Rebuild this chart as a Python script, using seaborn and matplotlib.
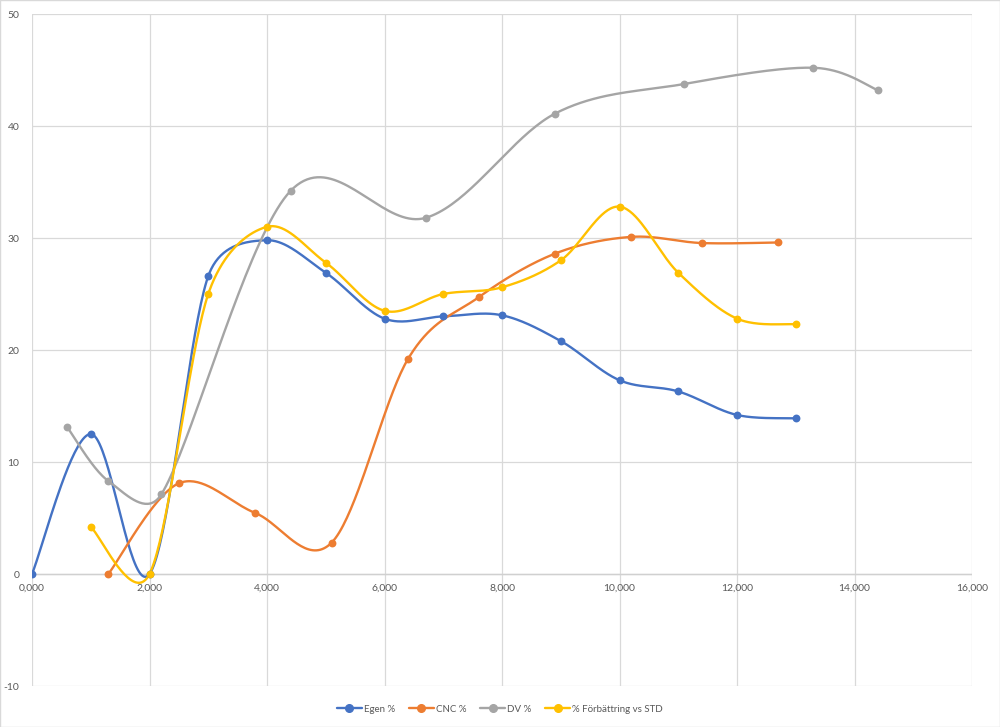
import numpy as np
import pandas as pd
import seaborn as sns
import matplotlib.pyplot as plt
from matplotlib.lines import Line2D
from matplotlib.patches import Rectangle

# ---- data ----
egen_x = [0.0, 1.0, 2.0, 3.0, 4.0, 5.0, 6.0, 7.0, 8.0, 9.0, 10.0, 11.0, 12.0, 13.0]
egen_y = [0.0, 12.5, 0.0, 26.6, 29.8, 26.9, 22.8, 23.0, 23.1, 20.8, 17.3, 16.3, 14.2, 13.9]

cnc_x = [1.3, 2.5, 3.8, 5.1, 6.4, 7.6, 8.9, 10.2, 11.4, 12.7]
cnc_y = [0.0, 8.1, 5.45, 2.8, 19.2, 24.7, 28.6, 30.1, 29.55, 29.6]

dv_x = [0.6, 1.3, 2.2, 4.4, 6.7, 8.9, 11.1, 13.3, 14.4]
dv_y = [13.1, 8.3, 7.1, 34.2, 31.8, 41.1, 43.75, 45.2, 43.2]

forb_x = [1.0, 2.0, 3.0, 4.0, 5.0, 6.0, 7.0, 8.0, 9.0, 10.0, 11.0, 12.0, 13.0]
forb_y = [4.2, 0.0, 25.0, 31.0, 27.8, 23.5, 25.0, 25.6, 28.0, 32.8, 26.9, 22.8, 22.3]

series_names = ["Egen %", "CNC %", "DV %", "% Förbättring vs STD"]
series_colors = ["#4472C4", "#ED7D31", "#A5A5A5", "#FFC000"]
series_data = [(egen_x, egen_y), (cnc_x, cnc_y), (dv_x, dv_y), (forb_x, forb_y)]

x_ticks = [0, 2, 4, 6, 8, 10, 12, 14, 16]
x_tick_labels = ["0,000", "2,000", "4,000", "6,000", "8,000", "10,000", "12,000", "14,000", "16,000"]
y_ticks = [-10, 0, 10, 20, 30, 40, 50]

# ---- rendering ----
sns.set_theme(style="white")
plt.rcParams['font.family'] = ['Lato', 'DejaVu Sans']

W, H = 1000, 727
fig = plt.figure(figsize=(W / 100, H / 100), dpi=100)
L, R, T, B = 32, 972, 14, 686
ax = fig.add_axes([L / W, 1 - B / H, (R - L) / W, (B - T) / H])

xmin, xmax, ymin, ymax = 0, 16, -10, 50
sx = (R - L) / (xmax - xmin)
sy = (B - T) / (ymax - ymin)


def _limit(v, seglen, k=0.5):
    n = np.hypot(*v)
    lim = k * seglen
    if n > lim and n > 0:
        return v * (lim / n)
    return v


def smooth(xs, ys, n=40):
    P = np.column_stack([np.asarray(xs) * sx, np.asarray(ys) * sy])
    out = []
    m = len(P)
    for i in range(m - 1):
        p0 = P[i - 1] if i > 0 else P[i]
        p1 = P[i]
        p2 = P[i + 1]
        p3 = P[i + 2] if i + 2 < m else P[i + 1]
        seg = np.hypot(*(p2 - p1))
        c1 = p1 + _limit((p2 - p0) / 6.0, seg)
        c2 = p2 - _limit((p3 - p1) / 6.0, seg)
        t = np.linspace(0, 1, n, endpoint=(i == m - 2))[:, None]
        pts = ((1 - t) ** 3) * p1 + 3 * ((1 - t) ** 2) * t * c1 + 3 * (1 - t) * t ** 2 * c2 + t ** 3 * p2
        out.append(pts)
    S = np.vstack(out)
    return S[:, 0] / sx, S[:, 1] / sy


for name, color, (xs, ys) in zip(series_names, series_colors, series_data):
    cx, cy = smooth(xs, ys)
    curve = pd.DataFrame({"x": cx, "y": cy})
    sns.lineplot(data=curve, x="x", y="y", sort=False, color=color, linewidth=1.7,
                 ax=ax, estimator=None, zorder=3)
    pts = pd.DataFrame({"x": xs, "y": ys})
    sns.scatterplot(data=pts, x="x", y="y", color=color, s=32, edgecolor=color,
                    linewidth=0, ax=ax, zorder=4)

ax.set_xlim(xmin, xmax)
ax.set_ylim(ymin, ymax)
ax.set_xticks(x_ticks)
ax.set_xticklabels(x_tick_labels)
ax.set_yticks(y_ticks)
ax.set_yticklabels([str(v) for v in y_ticks])
ax.set_xlabel("")
ax.set_ylabel("")
ax.grid(True, color="#D9D9D9", linewidth=0.9)
ax.set_axisbelow(True)
for s in ["top", "right", "left", "bottom"]:
    ax.spines[s].set_visible(False)
ax.spines["bottom"].set_position(("data", 0))
ax.tick_params(axis="both", length=0, labelsize=7.5, labelcolor="#595959")
ax.tick_params(axis="x", pad=7)
ax.tick_params(axis="y", pad=9)
ax.axhline(0, color="#D0D0D0", linewidth=1.0, zorder=1)

handles = [Line2D([0], [0], color=c, linewidth=1.7, marker="o", markersize=5.5,
                  markerfacecolor=c, markeredgecolor=c) for c in series_colors]
fig.legend(handles, series_names, loc="center", bbox_to_anchor=(0.5, 1 - 709 / H), ncol=4,
           frameon=False, fontsize=7, labelcolor="#595959", handlelength=2.6,
           handletextpad=0.2, columnspacing=1.4)

fig.patches.append(Rectangle((0, 0), 1, 1, transform=fig.transFigure, fill=False,
                             edgecolor="#D9D9D9", linewidth=1.0))

fig.savefig("out.png", dpi=100)
